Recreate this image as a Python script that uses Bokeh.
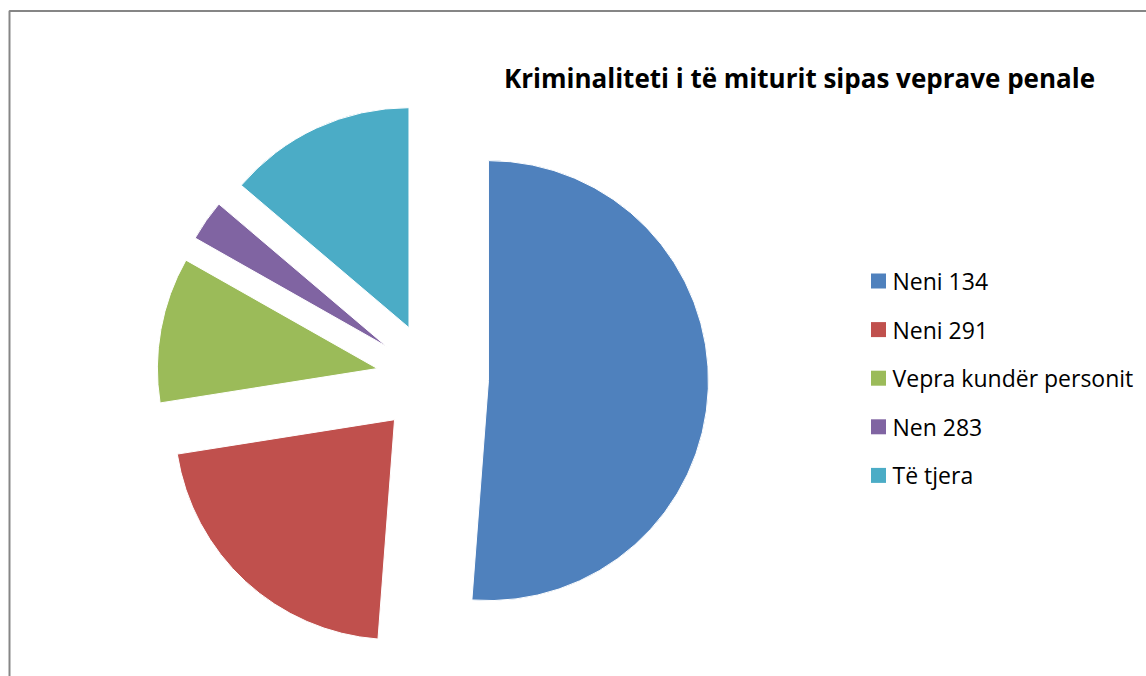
import math
from bokeh.plotting import figure
from bokeh.models import Range1d, BoxAnnotation, ColumnDataSource
from bokeh.core.properties import value
from bokeh.embed import file_html
from bokeh.resources import INLINE

# ---- data ----
categories = ["Neni 134", "Neni 291", "Vepra kundër personit", "Nen 283", "Të tjera"]
shares = [51.2, 21.3, 10.7, 3.0, 13.8]
colors = ["#4F81BD", "#C0504D", "#9BBB59", "#8064A2", "#4BACC6"]
title_text = "Kriminaliteti i të miturit sipas veprave penale"

W, H = 1146, 676
p = figure(width=W, height=H, output_backend="svg", toolbar_location=None,
           x_range=Range1d(0, W), y_range=Range1d(0, H), min_border=0)
p.axis.visible = False
p.grid.visible = False
p.outline_line_color = None
p.background_fill_color = "white"

# chart border (extends beyond right / bottom of the window)
p.add_layout(BoxAnnotation(left=9, top=H - 10.5, right=W + 50, bottom=-50,
                           fill_color=None, fill_alpha=0, line_color="#868686",
                           line_alpha=1.0, line_width=2))

# ---- exploded pie ----
cx, cy, r, explode = 432, 298, 220, 56
total = sum(shares)
starts, ends, xs, ys = [], [], [], []
acc = 0.0
for v in shares:
    t0 = acc / total * 2 * math.pi
    acc += v
    t1 = acc / total * 2 * math.pi
    mid = (t0 + t1) / 2
    xs.append(cx + explode * math.sin(mid))
    ys.append(cy + explode * math.cos(mid))
    starts.append(math.pi / 2 - t1)
    ends.append(math.pi / 2 - t0)

src = ColumnDataSource(dict(x=xs, y=ys, s=starts, e=ends, c=colors, cat=categories))
p.wedge(x="x", y="y", radius=r, start_angle="s", end_angle="e",
        fill_color="c", line_color="white", line_width=1, source=src)

# ---- title ----
p.text(x=[799], y=[H - 77], text=[title_text], text_font=value("Open Sans"),
       text_font_style="bold", text_font_size="26px", text_align="center",
       text_baseline="middle", text_color="black")

# ---- legend ----
lx, ly0, step = 878, H - 280.5, 48.6
leg_y = [ly0 - i * step for i in range(len(categories))]
leg = ColumnDataSource(dict(x=[lx] * len(categories), tx=[lx + 14] * len(categories),
                            y=leg_y, c=colors, t=categories))
p.scatter(x="x", y="y", marker="square", size=15, fill_color="c", line_color=None, source=leg)
p.text(x="tx", y="y", text="t", text_font=value("Open Sans"), text_font_size="23px",
       text_baseline="middle", text_color="black", source=leg)

open("out.html", "w").write(file_html(p, INLINE))
